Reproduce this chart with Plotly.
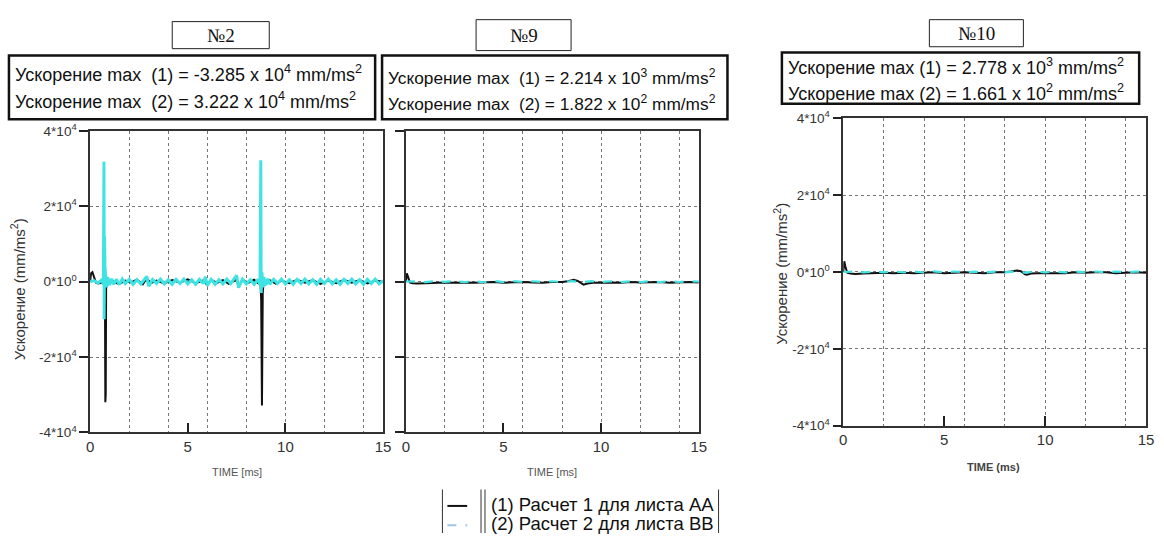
import plotly.graph_objects as go

W, H = 1164, 541

# ---------------- data ----------------
# Panel №2
p2_t1 = [0, 0.05, 0.12, 0.2, 0.3, 0.4, 0.5, 0.6, 0.7, 0.76, 0.78, 0.8, 0.82, 0.86, 0.95, 1.1, 1.3, 1.5, 1.8,
         2.1, 2.4, 2.7, 2.9, 3.1, 3.4, 3.8, 4.2, 4.6, 5.0, 5.4, 5.8, 6.0, 6.2, 6.5, 6.8, 7.1, 7.4, 7.5, 7.6,
         7.8, 8.1, 8.4, 8.6, 8.72, 8.76, 8.8, 8.84, 8.9, 9.0, 9.2, 9.5, 9.8, 10.2, 10.6, 11.0, 11.4, 11.8,
         12.2, 12.6, 13.0, 13.4, 13.8, 14.2, 14.6, 15.0]
p2_v1 = [0, 2200, 2500, 1000, -300, -500, -400, -300, -200, -1500, -32000, -30000, -2000, 600, -500, 400, -300, -600, 300,
         -200, 500, -700, 900, -400, 300, -500, 400, -300, 600, -400, 300, -900, 500, -300, 400, -600, 300, 1200, -1500,
         400, -300, 500, -400, 600, -5000, -32850, -3000, 800, -600, 400, -500, 300, -400, 500, -300, 400, -600,
         300, -400, 500, -300, 400, -500, 300, 0]

p2_t2 = [0, 0.2, 0.4, 0.6, 0.68, 0.71, 0.72, 0.74, 0.76, 0.78, 0.8, 0.84, 0.9, 1.0, 1.1, 1.2, 1.35, 1.5, 1.65, 1.8,
         2.0, 2.2, 2.4, 2.6, 2.8, 2.9, 3.0, 3.2, 3.4, 3.6, 3.8, 4.0, 4.2, 4.4, 4.6, 4.8, 5.0, 5.2, 5.4, 5.6,
         5.8, 5.9, 6.0, 6.2, 6.4, 6.6, 6.8, 7.0, 7.2, 7.4, 7.5, 7.6, 7.8, 8.0, 8.2, 8.4, 8.6, 8.7, 8.74, 8.76,
         8.8, 8.84, 8.9, 9.0, 9.1, 9.2, 9.4, 9.6, 9.8, 10.0, 10.2, 10.4, 10.6, 10.8, 11.0, 11.2, 11.4, 11.6,
         11.8, 12.0, 12.2, 12.4, 12.6, 12.8, 13.0, 13.2, 13.4, 13.6, 13.8, 14.0, 14.2, 14.4, 14.6, 14.8, 15.0]
p2_v2 = [0, 300, -400, 500, -800, 31800, -10000, 12000, 4000, 2500, 1500, -1500, 1200, -900, 800, -700, 600, -800, 700, -500,
         600, -700, 500, -600, 700, 1400, -1200, 600, -500, 700, -600, 500, -700, 600, -500, 700, -600, 500, -700, 600,
         -500, 1300, -1100, 600, -700, 500, -600, 700, -500, 800, 1700, -1600, 700, -600, 500, -700, 600, -800, 32220, -3000,
         2500, -1500, 1200, -900, 800, -700, 600, -500, 700, -600, 500, -700, 600, -500, 700, -600, 500, -700,
         600, -500, 700, -600, 500, -700, 600, -500, 700, -600, 500, -700, 600, -500, 700, -600, 300]

# Panel №9
p9_t1 = [0, 0.05, 0.12, 0.2, 0.35, 0.6, 1.0, 1.5, 2.0, 2.5, 3.0, 3.5, 4.0, 4.5, 5.0, 5.5, 6.0, 6.5, 7.0, 7.5,
         8.0, 8.3, 8.6, 8.8, 9.0, 9.1, 9.3, 9.6, 10.0, 10.5, 11.0, 11.5, 12.0, 12.5, 13.0, 13.5, 14.0, 14.5, 15.0]
p9_v1 = [0, 2214, 1200, -200, -400, -500, -400, -300, -200, -300, -200, -300, -200, -100, -300, -200, -100, -200, -300, -100,
         -100, 100, 500, 200, -600, -800, -500, -300, -300, -200, -300, -100, -200, -100, -100, -300, -200, -100, -200]
p9_t2 = [0, 0.5, 1.0, 1.5, 2.0, 2.5, 3.0, 3.5, 4.0, 4.5, 5.0, 5.5, 6.0, 6.5, 7.0, 7.5, 8.0, 8.5, 9.0, 9.5,
         10.0, 10.5, 11.0, 11.5, 12.0, 12.5, 13.0, 13.5, 14.0, 14.5, 15.0]
p9_v2 = [0, 100, -100, 120, -80, 150, -120, 100, -150, 182, -100, 120, -90, 110, -130, 100, -120, 150, -160, 120,
         -100, 110, -120, 90, -110, 130, -100, 120, -90, 100, 0]

# Panel №10
p10_t1 = [0, 0.05, 0.1, 0.2, 0.35, 0.6, 1.0, 1.5, 2.0, 2.5, 3.0, 3.5, 4.0, 4.5, 5.0, 5.5, 6.0, 6.5, 7.0, 7.5,
          8.0, 8.3, 8.6, 8.8, 9.0, 9.1, 9.3, 9.6, 10.0, 10.5, 11.0, 11.5, 12.0, 12.5, 13.0, 13.5, 14.0, 14.5, 15.0]
p10_v1 = [0, 2778, 1500, -200, -400, -500, -400, -300, -200, -300, -200, -300, -200, -100, -300, -200, -100, -200, -300, -100,
          -100, 100, 400, 200, -600, -700, -400, -300, -300, -200, -300, -100, -200, -100, -100, -300, -200, -100, -200]
p10_t2 = p9_t2
p10_v2 = [0, 90, -100, 110, -80, 140, -120, 100, -140, 166, -100, 120, -90, 110, -130, 100, -120, 140, -150, 120,
          -100, 110, -120, 90, -110, 130, -100, 120, -90, 100, 0]

ytick_vals = [-40000, -20000, 0, 20000, 40000]
ytick_text = ["-4*10<sup>4</sup>", "-2*10<sup>4</sup>", "0*10<sup>0</sup>", "2*10<sup>4</sup>", "4*10<sup>4</sup>"]
xtick_vals = [0, 5, 10, 15]

titles = ["№2", "№9", "№10"]
info1 = ["-3.285 x 10<sup>4</sup>", "2.214 x 10<sup>3</sup>", "2.778 x 10<sup>3</sup>"]
info2 = ["3.222 x 10<sup>4</sup>", "1.822 x 10<sup>2</sup>", "1.661 x 10<sup>2</sup>"]
legend_names = ["(1) Расчет 1 для листа АА", "(2) Расчет 2 для листа ВВ"]

# ---------------- helpers ----------------
def X(px):
    return px / W

def Y(py):
    return 1 - py / H

BLACK = "#111111"
CYAN = "#3fe3e3"
FONT = "Liberation Sans"

fig = go.Figure()

panels = [
    dict(xd=(87, 383), yd=(125, 437), t1=p2_t1, v1=p2_v1, t2=p2_t2, v2=p2_v2, dash2="solid", w2=3),
    dict(xd=(406, 702), yd=(125, 437), t1=p9_t1, v1=p9_v1, t2=p9_t2, v2=p9_v2, dash2="dash", w2=2.2),
    dict(xd=(848, 1154), yd=(112, 430), t1=p10_t1, v1=p10_v1, t2=p10_t2, v2=p10_v2, dash2="dash", w2=2.2),
]

for i, p in enumerate(panels):
    n = "" if i == 0 else str(i + 1)
    fig.add_trace(go.Scatter(x=p["t1"], y=p["v1"], mode="lines", line=dict(color=BLACK, width=2),
                             xaxis="x" + n, yaxis="y" + n, showlegend=False))
    fig.add_trace(go.Scatter(x=p["t2"], y=p["v2"], mode="lines",
                             line=dict(color=CYAN, width=p["w2"], dash=p["dash2"]),
                             xaxis="x" + n, yaxis="y" + n, showlegend=False))
    xa = dict(domain=[X(p["xd"][0]), X(p["xd"][1])], range=[0, 15], anchor="y" + n,
              tickvals=xtick_vals, ticks="inside", ticklen=10, tickcolor="#222", tickwidth=1.5,
              showline=True, linecolor="#333", linewidth=1.5, mirror=True,
              showgrid=False, zeroline=False,
              minor=dict(dtick=2, tick0=0, showgrid=True, griddash="dot", gridcolor="#777", gridwidth=1, ticklen=0),
              tickfont=dict(family=FONT, size=15, color="#333"))
    ya = dict(domain=[Y(p["yd"][1]), Y(p["yd"][0])], range=[-40000, 40000], anchor="x" + n,
              tickvals=ytick_vals, ticktext=ytick_text, ticks="outside", ticklen=9, tickcolor="#222",
              tickwidth=1.5, showline=True, linecolor="#333", linewidth=1.5, mirror=True,
              showgrid=True, griddash="dot", gridcolor="#777", gridwidth=1, zeroline=False,
              showticklabels=(i != 1), tickfont=dict(family=FONT, size=13.5, color="#333"))
    fig.layout["xaxis" + n] = xa
    fig.layout["yaxis" + n] = ya

shapes = []
annotations = []

# title boxes
title_boxes = [(170, 12, 268, 40), (477, 10, 573, 42), (935, 10, 1030, 38)]
for (x0, y0, x1, y1), t in zip(title_boxes, titles):
    shapes.append(dict(type="rect", xref="paper", yref="paper", x0=X(x0), x1=X(x1), y0=Y(y1), y1=Y(y0),
                       line=dict(color="#222", width=1)))
    annotations.append(dict(x=X((x0 + x1) / 2), y=Y((y0 + y1) / 2), xref="paper", yref="paper", text=t,
                            showarrow=False, font=dict(family="Liberation Serif", size=19, color="#111"),
                            xanchor="center", yanchor="middle"))

# info boxes
info_boxes = [(5, 47, 375, 113), (382, 47, 731, 113), (786, 44, 1147, 97)]
line_y = [(66, 94), (69, 96), (58, 85)]
sep = ["\u00a0 ", "\u00a0 ", " "]
info_size = [18, 17.3, 18]
for k, ((x0, y0, x1, y1), (ly1, ly2)) in enumerate(zip(info_boxes, line_y)):
    shapes.append(dict(type="rect", xref="paper", yref="paper", x0=X(x0), x1=X(x1), y0=Y(y1), y1=Y(y0),
                       line=dict(color="#111", width=2.5)))
    for j, (ly, val) in enumerate([(ly1, info1[k]), (ly2, info2[k])]):
        annotations.append(dict(x=X(x0 + 4), y=Y(ly), xref="paper", yref="paper",
                                text=f"Ускорение max{sep[k]}({j + 1}) = {val} mm/ms<sup>2</sup>",
                                showarrow=False, xanchor="left", yanchor="middle",
                                font=dict(family=FONT, size=info_size[k], color="#111")))

# y-axis titles
for xp, yp in [(14, 289), (785, 273)]:
    annotations.append(dict(x=X(xp), y=Y(yp), xref="paper", yref="paper",
                            text="Ускорение (mm/ms<sup>2</sup>)", textangle=-90, showarrow=False,
                            xanchor="center", yanchor="middle", font=dict(family=FONT, size=15, color="#333")))

# x-axis titles
for xp, yp, txt, fnt in [(235, 478, "TIME [ms]", dict(family=FONT, size=11, color="#555")),
                         (554, 478, "TIME [ms]", dict(family=FONT, size=11, color="#555")),
                         (1000, 473, "<b>TIME (ms)</b>", dict(family=FONT, size=11, color="#444"))]:
    annotations.append(dict(x=X(xp), y=Y(yp), xref="paper", yref="paper", text=txt, showarrow=False,
                            xanchor="center", yanchor="middle", font=fnt))

# legend
for bx, ytop in [(443, 496), (482, 496), (486, 496), (722, 496)]:
    shapes.append(dict(type="line", xref="paper", yref="paper", x0=X(bx), x1=X(bx), y0=Y(541), y1=Y(ytop),
                       line=dict(color="#333", width=1)))
shapes.append(dict(type="line", xref="paper", yref="paper", x0=X(448), x1=X(468), y0=Y(513), y1=Y(513),
                   line=dict(color=BLACK, width=2)))
shapes.append(dict(type="line", xref="paper", yref="paper", x0=X(448), x1=X(468), y0=Y(533), y1=Y(533),
                   line=dict(color="#9cc6ea", width=2, dash="dash")))
for ly, name in zip([512, 531], legend_names):
    annotations.append(dict(x=X(490), y=Y(ly), xref="paper", yref="paper", text=name, showarrow=False,
                            xanchor="left", yanchor="middle", font=dict(family=FONT, size=18.5, color="#111")))

fig.update_layout(width=W, height=H, margin=dict(l=0, r=0, t=0, b=0), paper_bgcolor="white",
                  plot_bgcolor="white", shapes=shapes, annotations=annotations, showlegend=False)

fig.write_html("out.html")
